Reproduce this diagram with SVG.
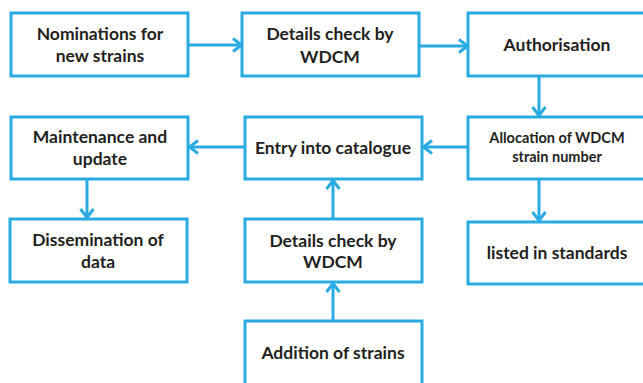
<svg xmlns="http://www.w3.org/2000/svg" width="643" height="383" viewBox="0 0 643 383">
<defs>
<style>
.box{fill:#fff;stroke:#29ABE2;stroke-width:3}
.t{font-family:Lato,"Open Sans","Liberation Sans",sans-serif;font-weight:bold;font-size:17.5px;fill:#231F20;text-anchor:middle}
.s{font-size:14.5px}
.c{fill:none;stroke:#29ABE2;stroke-width:3}
</style>
<marker id="ah" viewBox="0 0 12 16" refX="11" refY="8" markerWidth="12" markerHeight="16" markerUnits="userSpaceOnUse" orient="auto">
<polyline points="2,1.5 10.5,8 2,14.5" fill="none" stroke="#29ABE2" stroke-width="3"/>
</marker>
</defs>
<rect width="643" height="383" fill="#fff"/>
<g id="connectors">
<line class="c" x1="188" y1="45" x2="242" y2="45" marker-end="url(#ah)"/>
<line class="c" x1="417" y1="46" x2="468" y2="46" marker-end="url(#ah)"/>
<line class="c" x1="539" y1="76" x2="539" y2="116" marker-end="url(#ah)"/>
<line class="c" x1="468" y1="147" x2="423" y2="147" marker-end="url(#ah)"/>
<line class="c" x1="245" y1="147" x2="189" y2="147" marker-end="url(#ah)"/>
<line class="c" x1="87" y1="179" x2="87" y2="218" marker-end="url(#ah)"/>
<line class="c" x1="539" y1="179" x2="539" y2="221" marker-end="url(#ah)"/>
<line class="c" x1="333" y1="219" x2="333" y2="180" marker-end="url(#ah)"/>
<line class="c" x1="333" y1="321" x2="333" y2="283" marker-end="url(#ah)"/>
</g>
<g id="n1"><rect class="box" x="11" y="13" width="177" height="63"/><text class="t" x="100" y="40">Nominations for</text><text class="t" x="100" y="62">new strains</text></g>
<g id="n2"><rect class="box" x="242" y="13" width="177" height="63"/><text class="t" x="330" y="40">Details check by</text><text class="t" x="330" y="63">WDCM</text></g>
<g id="n3"><rect class="box" x="468" y="13" width="190" height="63"/><text class="t" x="557" y="51">Authorisation</text></g>
<g id="n4"><rect class="box" x="11" y="117" width="177" height="62"/><text class="t" x="100" y="143">Maintenance and</text><text class="t" x="100" y="165">update</text></g>
<g id="n5"><rect class="box" x="245" y="117" width="177" height="62"/><text class="t" x="333" y="154">Entry into catalogue</text></g>
<g id="n6"><rect class="box" x="468" y="117" width="190" height="62"/><text class="t s" x="557" y="143">Allocation of WDCM</text><text class="t s" x="557" y="162">strain number</text></g>
<g id="n7"><rect class="box" x="10" y="219" width="177" height="63"/><text class="t" x="98" y="246">Dissemination of</text><text class="t" x="98" y="268">data</text></g>
<g id="n8"><rect class="box" x="245" y="219" width="177" height="63"/><text class="t" x="333" y="247">Details check by</text><text class="t" x="333" y="268">WDCM</text></g>
<g id="n9"><rect class="box" x="468" y="222" width="190" height="62"/><text class="t" x="557" y="259">listed in standards</text></g>
<g id="n10"><rect class="box" x="245" y="321" width="177" height="80"/><text class="t" x="333" y="359">Addition of strains</text></g>
</svg>
